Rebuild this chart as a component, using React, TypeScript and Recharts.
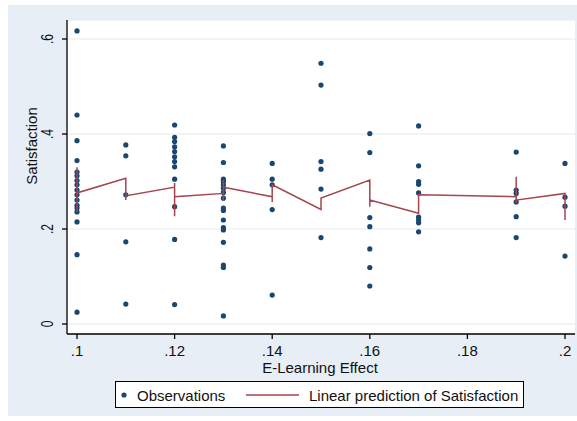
import React from "react";
import {
  ScatterChart,
  Scatter,
  XAxis,
  YAxis,
  CartesianGrid,
  Label,
} from "recharts";

// observed Satisfaction values, one list per E-Learning Effect value
const obsX = [0.1, 0.11, 0.12, 0.13, 0.14, 0.15, 0.16, 0.17, 0.19, 0.2];
const obs10 = [0.617, 0.44, 0.386, 0.344, 0.32, 0.312, 0.302, 0.293, 0.282, 0.272, 0.261, 0.25, 0.244, 0.236, 0.215, 0.146, 0.025];
const obs11 = [0.377, 0.354, 0.272, 0.173, 0.042];
const obs12 = [0.419, 0.393, 0.384, 0.373, 0.363, 0.352, 0.342, 0.331, 0.305, 0.247, 0.178, 0.041];
const obs13 = [0.375, 0.34, 0.305, 0.3, 0.293, 0.286, 0.277, 0.265, 0.244, 0.239, 0.219, 0.203, 0.198, 0.172, 0.124, 0.119, 0.017];
const obs14 = [0.338, 0.305, 0.293, 0.241, 0.061];
const obs15 = [0.549, 0.503, 0.342, 0.326, 0.284, 0.182];
const obs16 = [0.401, 0.361, 0.224, 0.205, 0.158, 0.119, 0.08];
const obs17 = [0.417, 0.333, 0.3, 0.294, 0.276, 0.225, 0.219, 0.213, 0.194];
const obs19 = [0.362, 0.282, 0.275, 0.257, 0.226, 0.182];
const obs20 = [0.338, 0.267, 0.248, 0.143];
const obsY = [obs10, obs11, obs12, obs13, obs14, obs15, obs16, obs17, obs19, obs20];

// linear prediction, in plotting order
const predX = [0.1, 0.1, 0.1, 0.11, 0.11, 0.11, 0.12, 0.12, 0.12, 0.12, 0.13, 0.13, 0.13, 0.13, 0.14, 0.14, 0.14, 0.15, 0.15, 0.16, 0.16, 0.16, 0.17, 0.17, 0.19, 0.19, 0.19, 0.19, 0.2, 0.2];
const predY = [0.33, 0.236, 0.276, 0.307, 0.261, 0.27, 0.288, 0.297, 0.227, 0.268, 0.275, 0.303, 0.26, 0.288, 0.268, 0.257, 0.293, 0.241, 0.265, 0.303, 0.247, 0.261, 0.233, 0.272, 0.268, 0.31, 0.255, 0.261, 0.275, 0.219];

const xTicks = [0.1, 0.12, 0.14, 0.16, 0.18, 0.2];
const yTicks = [0, 0.2, 0.4, 0.6];

const observations = obsX.flatMap((x, i) => obsY[i].map((y) => ({ x, y })));
const prediction = predX.map((x, i) => ({ x, y: predY[i] }));

const NAVY = "#1a476f";
const MAROON = "#a3464e";
const FONT = "'Liberation Sans', Arial, sans-serif";

const fmt = (v: number) => (v === 0 ? "0" : String(+v.toFixed(2)).replace(/^0\./, "."));

const XTick = ({ x, payload }: any) => (
  <text x={x} y={355.5} textAnchor="middle" fontSize={15} fontFamily={FONT} fill="#111">
    {fmt(payload.value)}
  </text>
);

const YTick = ({ y, payload }: any) => (
  <text
    transform={`translate(53, ${y}) rotate(-90) scale(0.75, 1)`}
    textAnchor="middle"
    fontSize={16}
    fontFamily={FONT}
    fill="#111"
  >
    {fmt(payload.value)}
  </text>
);

const Dot = ({ cx, cy }: any) => <circle cx={cx} cy={cy} r={2.6} fill={NAVY} />;

export default function App() {
  return (
    <div style={{ position: "absolute", left: 0, top: 0, width: 577, height: 421, background: "#fff" }}>
      <div style={{ position: "absolute", left: 8, top: 5, width: 569, height: 411, background: "#e7eef6" }} />
      <div style={{ position: "absolute", left: 0, top: 0 }}>
        <ScatterChart width={577} height={421} margin={{ top: 20, right: 2, bottom: 57, left: 10 }}>
          <CartesianGrid fill="#ffffff" vertical={false} stroke="#e4ebf1" />
          <XAxis
            type="number"
            dataKey="x"
            domain={[0.09795, 0.20205]}
            ticks={xTicks}
            allowDataOverflow
            height={30}
            tick={<XTick />}
            tickSize={5}
            tickLine={{ stroke: "#000", strokeWidth: 1.3 }}
            axisLine={{ stroke: "#000", strokeWidth: 1.3 }}
          >
            <Label
              content={() => (
                <text x={320} y={373} textAnchor="middle" fontSize={15} fontFamily={FONT} fill="#111">
                  E-Learning Effect
                </text>
              )}
            />
          </XAxis>
          <YAxis
            type="number"
            dataKey="y"
            domain={[-0.021, 0.64]}
            ticks={yTicks}
            allowDataOverflow
            width={57}
            tick={<YTick />}
            tickSize={5}
            tickLine={{ stroke: "#000", strokeWidth: 1.3 }}
            axisLine={{ stroke: "#000", strokeWidth: 1.3 }}
          >
            <Label
              content={() => (
                <text
                  transform="translate(37, 146) rotate(-90)"
                  textAnchor="middle"
                  fontSize={15}
                  fontFamily={FONT}
                  fill="#111"
                >
                  Satisfaction
                </text>
              )}
            />
          </YAxis>
          <Scatter data={observations} shape={<Dot />} isAnimationActive={false} />
          <Scatter
            data={prediction}
            line={{ stroke: MAROON, strokeWidth: 1.5 }}
            lineType="joint"
            shape={() => <g />}
            isAnimationActive={false}
          />
        </ScatterChart>
      </div>
      <div
        style={{
          position: "absolute",
          left: 115,
          top: 381,
          width: 407,
          height: 25,
          background: "#fff",
          border: "1px solid #000",
        }}
      >
        <svg width={407} height={25} style={{ position: "absolute", left: 0, top: 0 }}>
          <circle cx={8} cy={13} r={2.6} fill={NAVY} />
          <text x={21} y={18.5} fontSize={15} fontFamily={FONT} fill="#111">
            Observations
          </text>
          <line x1={130} x2={183} y1={13} y2={13} stroke={MAROON} strokeWidth={1.5} />
          <text x={193} y={18.5} fontSize={15} fontFamily={FONT} fill="#111">
            Linear prediction of Satisfaction
          </text>
        </svg>
      </div>
    </div>
  );
}
